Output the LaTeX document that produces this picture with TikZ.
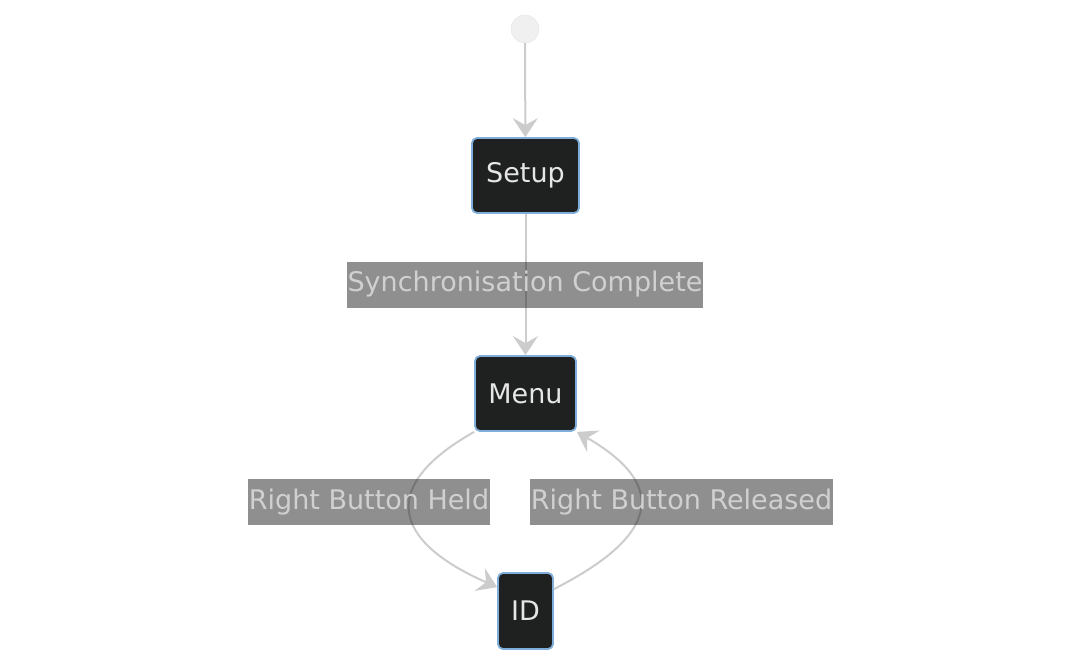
\documentclass[tikz,border=0pt]{standalone}
\usepackage{fontspec}
\setmainfont{DejaVu Sans}
\usetikzlibrary{arrows.meta,positioning}
\definecolor{statefill}{HTML}{1F2020}
\definecolor{stateline}{HTML}{7FAEDB}
\definecolor{statetext}{HTML}{E6E6E6}
\definecolor{edgeline}{HTML}{CCCCCC}
\definecolor{labeltext}{HTML}{D0D0D0}
\definecolor{startfill}{HTML}{F0F0F0}
\tikzset{
%Define standard arrow tip
>={Stealth[length=19pt,width=25pt,inset=7pt]},
%Styles for the states and the transitions
state/.style={draw=stateline, line width=1.8pt, fill=statefill, rounded corners=5pt,
  text=statetext, font=\fontsize{27}{30}\selectfont, minimum height=75pt, inner sep=0pt},
startstate/.style={circle, fill=startfill, draw=startfill!95!black, minimum size=28pt, inner sep=0pt},
edge/.style={->, draw=edgeline, line width=2pt},
edgelabel/.style={fill=statefill, fill opacity=0.5, text opacity=1, text=labeltext,
  font=\fontsize{27}{30}\selectfont, minimum height=46pt, inner xsep=0.5pt, inner ysep=0pt},
}

\begin{document}
\begin{tikzpicture}[x=1pt, y=-1pt]
    %Fix the size of the picture
    \useasboundingbox (0,0) rectangle (1080,664);
    %The states
    \node[startstate] (start) at (525,29) {};
    \node[state, minimum width=107pt] (setup) at (525.5,175.5) {Setup};
    \node[state, minimum width=101pt] (menu) at (525.5,393.5) {Menu};
    \node[state, minimum width=55pt, minimum height=76pt] (id) at (525.5,611) {ID};

    %The transitions
    \draw[edge] (start) -- (setup);
    \draw[edge] (setup) -- (menu);
    \draw[edge] (menu.south west) .. controls (380,485) and (390,540) .. ([yshift=-15pt]id.north west);
    \draw[edge] ([yshift=-17pt]id.north east) .. controls (670,530) and (660,480) .. (menu.south east);

    %Labels of the transitions, drawn over the lines
    \node[edgelabel] (sync) at (525,284.5) {Synchronisation Complete};
    \node[edgelabel] (held) at (369,502) {Right Button Held};
    \node[edgelabel] (released) at (681.5,502) {Right Button Released};
\end{tikzpicture}
\end{document}
